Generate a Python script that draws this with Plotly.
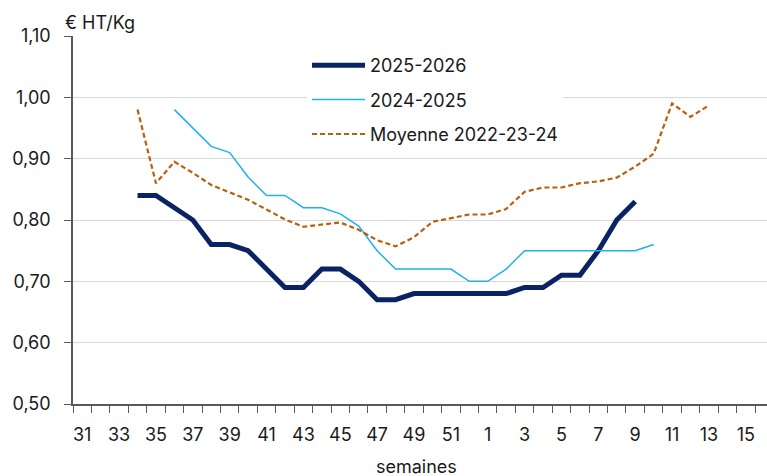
import plotly.graph_objects as go

weeks = list(range(31, 53)) + list(range(1, 17))
week_labels = [str(w) for w in weeks]

s2526_weeks = [34, 35, 36, 37, 38, 39, 40, 41, 42, 43, 44, 45, 46, 47, 48, 49, 50, 51, 52,
               1, 2, 3, 4, 5, 6, 7, 8, 9]
s2526_vals = [0.84, 0.84, 0.82, 0.80, 0.76, 0.76, 0.75, 0.72, 0.69, 0.69, 0.72, 0.72, 0.70,
              0.67, 0.67, 0.68, 0.68, 0.68, 0.68, 0.68, 0.68, 0.69, 0.69, 0.71, 0.71, 0.75,
              0.80, 0.83]

s2425_weeks = [36, 37, 38, 39, 40, 41, 42, 43, 44, 45, 46, 47, 48, 49, 50, 51, 52,
               1, 2, 3, 4, 5, 6, 7, 8, 9, 10]
s2425_vals = [0.98, 0.95, 0.92, 0.91, 0.87, 0.84, 0.84, 0.82, 0.82, 0.81, 0.79, 0.75, 0.72,
              0.72, 0.72, 0.72, 0.70, 0.70, 0.72, 0.75, 0.75, 0.75, 0.75, 0.75, 0.75, 0.75,
              0.76]

moy_weeks = [34, 35, 36, 37, 38, 39, 40, 41, 42, 43, 44, 45, 46, 47, 48, 49, 50, 51, 52,
             1, 2, 3, 4, 5, 6, 7, 8, 9, 10, 11, 12, 13]
moy_vals = [0.98, 0.86, 0.895, 0.877, 0.857, 0.845, 0.833, 0.817, 0.801, 0.789, 0.793, 0.796,
            0.784, 0.767, 0.757, 0.772, 0.797, 0.803, 0.809, 0.809, 0.818, 0.846, 0.853,
            0.853, 0.86, 0.863, 0.869, 0.887, 0.908, 0.990, 0.968, 0.987]

y_ticks = [0.50, 0.60, 0.70, 0.80, 0.90, 1.00, 1.10]
y_tick_labels = ["0,50", "0,60", "0,70", "0,80", "0,90", "1,00", "1,10"]


def idx(ws):
    return [weeks.index(w) for w in ws]


FONT = "Inter"
TXT = "#1a1a1a"

fig = go.Figure()
fig.add_trace(go.Scatter(x=idx(s2526_weeks), y=s2526_vals, mode="lines", name="2025-2026",
                         line=dict(color="#0a2463", width=5), legendgroup="a"))
fig.add_trace(go.Scatter(x=idx(s2425_weeks), y=s2425_vals, mode="lines", name="2024-2025",
                         line=dict(color="#1eb1ef", width=1.5), legendgroup="b"))
fig.add_trace(go.Scatter(x=idx(moy_weeks), y=moy_vals, mode="lines", name="Moyenne 2022-23-24",
                         line=dict(color="#b8600f", width=2.2, dash="5px,3px"), legendgroup="c"))

label_idx = list(range(0, 37, 2))
fig.update_xaxes(
    range=[-0.5, 37.15],
    tickmode="array",
    tickvals=label_idx,
    ticktext=[week_labels[i] for i in label_idx],
    ticks="",
    ticklabelstandoff=14,
    showgrid=False,
    zeroline=False,
    showline=True,
    linecolor="#595959",
    linewidth=1.5,
    tickfont=dict(family=FONT, size=18, color=TXT),
    minor=dict(tickmode="linear", tick0=-0.5, dtick=1, ticks="outside", ticklen=7,
               tickcolor="#595959", tickwidth=1.2, showgrid=False),
)
fig.update_yaxes(
    range=[0.5, 1.1],
    tickmode="array",
    tickvals=y_ticks,
    ticktext=y_tick_labels,
    ticks="outside",
    ticklen=7,
    tickcolor="#595959",
    tickwidth=1.2,
    ticklabelstandoff=10,
    showgrid=True,
    gridcolor="#d9d9d9",
    gridwidth=1.2,
    zeroline=False,
    showline=True,
    linecolor="#595959",
    linewidth=1.5,
    tickfont=dict(family=FONT, size=18, color=TXT),
)

fig.update_layout(
    width=767,
    height=476,
    margin=dict(l=73, r=0, t=36, b=72),
    paper_bgcolor="white",
    plot_bgcolor="white",
    font=dict(family=FONT, size=18, color=TXT),
    legend=dict(
        x=(307 - 73) / 694, y=1 - (47 - 36) / 368.3, xanchor="left", yanchor="top",
        bgcolor="white", borderwidth=0,
        font=dict(family=FONT, size=18, color=TXT),
        itemwidth=53, tracegroupgap=8, traceorder="grouped",
    ),
    annotations=[
        dict(text="€ HT/Kg", x=0, y=1, xref="paper", yref="paper", xanchor="left",
             yanchor="middle", xshift=-10, yshift=14, showarrow=False,
             font=dict(family=FONT, size=18, color=TXT)),
        dict(text="semaines", x=(416 - 73) / 694, y=0, xref="paper", yref="paper",
             xanchor="center", yanchor="middle", yshift=-62, showarrow=False,
             font=dict(family=FONT, size=18, color=TXT)),
    ],
)

fig.write_html("out.html", config={"displayModeBar": False},
               post_script="document.body.style.margin='0';")
